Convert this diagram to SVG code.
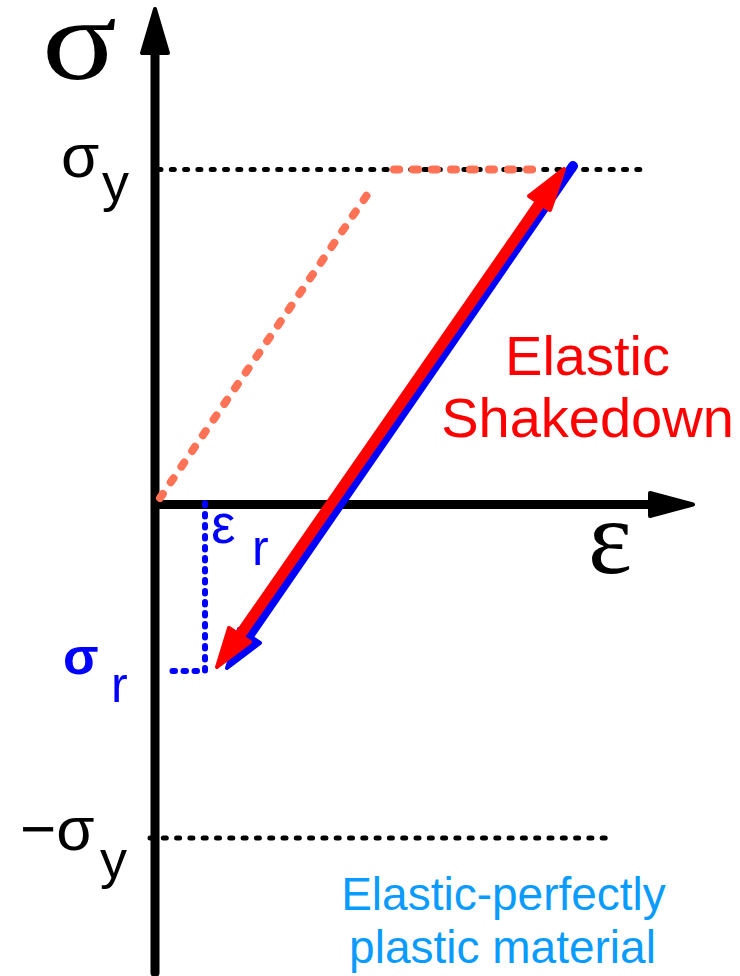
<svg xmlns="http://www.w3.org/2000/svg" width="740" height="976" viewBox="0 0 740 976">
<style>
.sans{font-family:"Liberation Sans",Arial,sans-serif}
.serif{font-family:"Liberation Serif","Times New Roman",serif}
.dotk{fill:none;stroke:#000;stroke-width:5;stroke-linecap:round;stroke-dasharray:3 10.3}
.dotb{fill:none;stroke:#0000FF;stroke-width:6;stroke-linecap:round;stroke-dasharray:2.5 8.5}
.dash{fill:none;stroke:#FF7256;stroke-width:8;stroke-linecap:round;stroke-dasharray:5 14}
.head{stroke-linejoin:round;stroke-width:4}
</style>
<g id="axes">
<line x1="155" y1="973" x2="155" y2="50" stroke="#000" stroke-width="9" stroke-linecap="round"/>
<polygon class="head" points="155,9 142,53 168,53" fill="#000" stroke="#000"/>
<line x1="155" y1="504.5" x2="655" y2="504.5" stroke="#000" stroke-width="9"/>
<polygon class="head" points="693,504.5 650,493 650,516" fill="#000" stroke="#000"/>
</g>
<g id="connectors">
<line class="dotk" x1="158" y1="169.5" x2="650" y2="169.5"/>
<line class="dotk" x1="150" y1="838" x2="612" y2="838"/>
<polyline class="dotb" points="205,503 205,671 170,671"/>
<line class="dash" x1="160" y1="498" x2="367" y2="195"/>
<line class="dash" x1="394" y1="169.5" x2="536" y2="169.5"/>
<g id="blue-arrow">
<line x1="573" y1="166" x2="249" y2="636" stroke="#0000FF" stroke-width="10" stroke-linecap="round"/>
<polygon class="head" points="227,668 239,629 260,643" fill="#0000FF" stroke="#0000FF"/>
</g>
<g id="red-arrow">
<line x1="540" y1="203" x2="240" y2="635" stroke="#FF0000" stroke-width="11"/>
<polygon class="head" points="564,169 529,196 550,210" fill="#FF0000" stroke="#FF0000"/>
<polygon class="head" points="217,667 229,628 250,642" fill="#FF0000" stroke="#FF0000"/>
</g>
</g>
<g id="labels">
<text class="serif" font-size="116" transform="translate(42,79) scale(1.2,1)">σ</text>
<text class="serif" x="588" y="573" font-size="105">ε</text>
<text class="sans" x="61" y="177" font-size="62">σ</text>
<text class="sans" x="102" y="201" font-size="54">y</text>
<text class="sans" x="20" y="850" font-size="62">−σ</text>
<text class="sans" x="100" y="878" font-size="54">y</text>
<text class="sans" x="211" y="543" font-size="55" fill="#0000FF">ε</text>
<text class="sans" x="252" y="565" font-size="50" fill="#0000FF">r</text>
<text class="sans" x="63" y="674" font-size="52" fill="#0000FF" font-weight="bold">σ</text>
<text class="sans" x="111" y="702" font-size="50" fill="#0000FF">r</text>
<text class="sans" x="587.5" y="375" font-size="56" fill="#FF0000" text-anchor="middle">Elastic</text>
<text class="sans" x="587.5" y="437" font-size="56" fill="#FF0000" text-anchor="middle">Shakedown</text>
<text class="sans" x="503.5" y="910" font-size="46" fill="#0A9BFF" text-anchor="middle">Elastic-perfectly</text>
<text class="sans" x="502.5" y="963" font-size="46" fill="#0A9BFF" text-anchor="middle">plastic material</text>
</g>
</svg>
